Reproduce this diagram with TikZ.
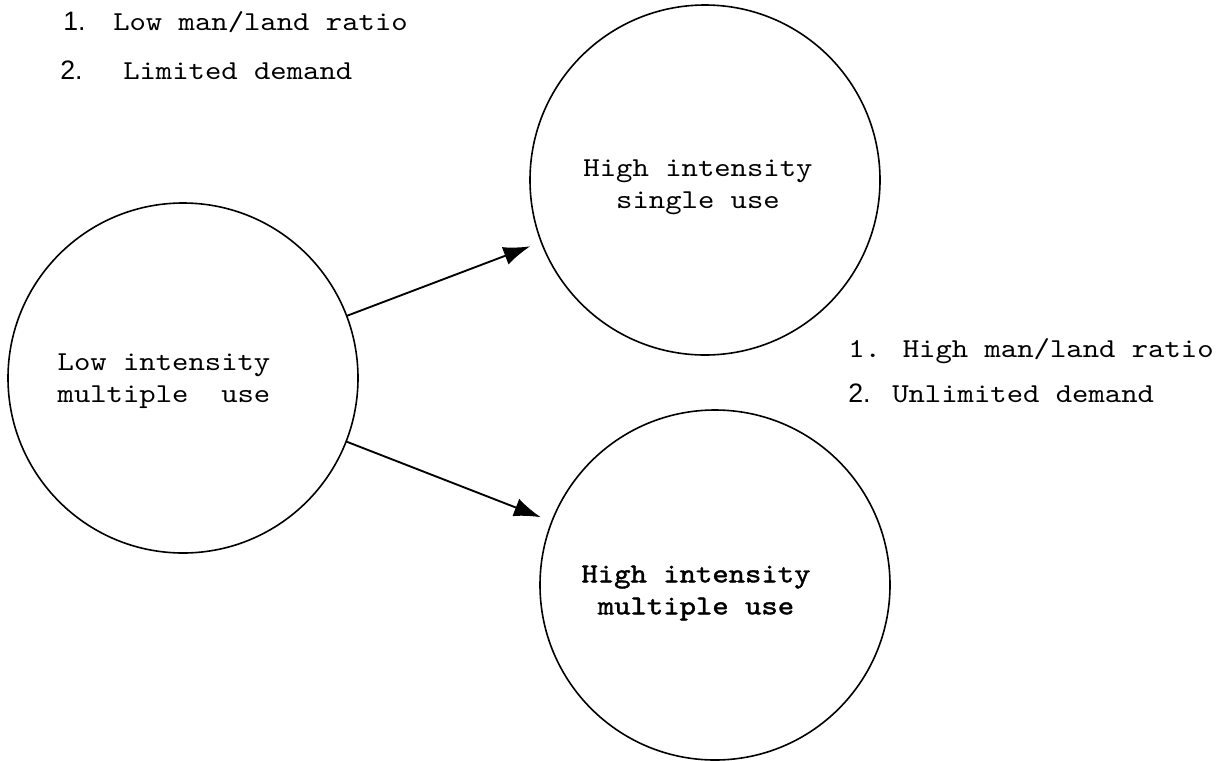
\documentclass[tikz,border=0pt]{standalone}
\usepackage{fontspec}
\setmainfont{lmmono10-regular.otf}[FakeStretch=1.14]
\newfontfamily\numfont{Liberation Sans}
\newfontfamily\elitefont{lmmono10-regular.otf}[FakeStretch=1.14,FakeBold=1.5]
\usetikzlibrary{arrows.meta}
\newcommand\listnum[2]{\makebox[#1][l]{\numfont\fontsize{20}{24}\selectfont #2}}

\begin{document}
\begin{tikzpicture}[
  x=0.75pt,y=-0.75pt,
  ring/.style={circle,draw,line width=1.2pt,minimum size=262.5pt,
    inner sep=0pt,outer sep=0pt},
  tag/.style={align=center,inner sep=0pt,font=\fontsize{20.5}{24}\selectfont},
  item/.style={anchor=base west,inner sep=0pt,font=\fontsize{20.5}{24}\selectfont},
  arrow/.style={-{Latex[length=20pt,width=14pt]},line width=1.4pt,shorten >=9pt}
]
\useasboundingbox (0,0) rectangle (1222,761);
\node[ring] (lowmulti) at (183,378) {};
\node[ring] (highsingle) at (705,180) {};
\node[ring] (highmulti) at (715,585) {};
\node[tag] (lowtext) at (164,381) {Low intensity\\multiple\ \ use};
\node[tag] (singletext) at (698,187) {High intensity\\single use};
\node[tag,font=\elitefont\fontsize{20.5}{24}\selectfont] (multitext) at (696,593)
  {High intensity\\multiple use};
\node[item] (lowfirst) at (63,30) {\listnum{37.5pt}{1.}Low man/land ratio};
\node[item] (lowsecond) at (60,79) {\listnum{47.25pt}{2.}Limited demand};
\node[item] (highfirst) at (848,357) {1. High man/land ratio};
\node[item] (highsecond) at (848,402) {\listnum{33pt}{2.}Unlimited demand};
\draw[arrow] (lowmulti) -- (highsingle);
\draw[arrow] (lowmulti) -- (highmulti);
\end{tikzpicture}
\end{document}
